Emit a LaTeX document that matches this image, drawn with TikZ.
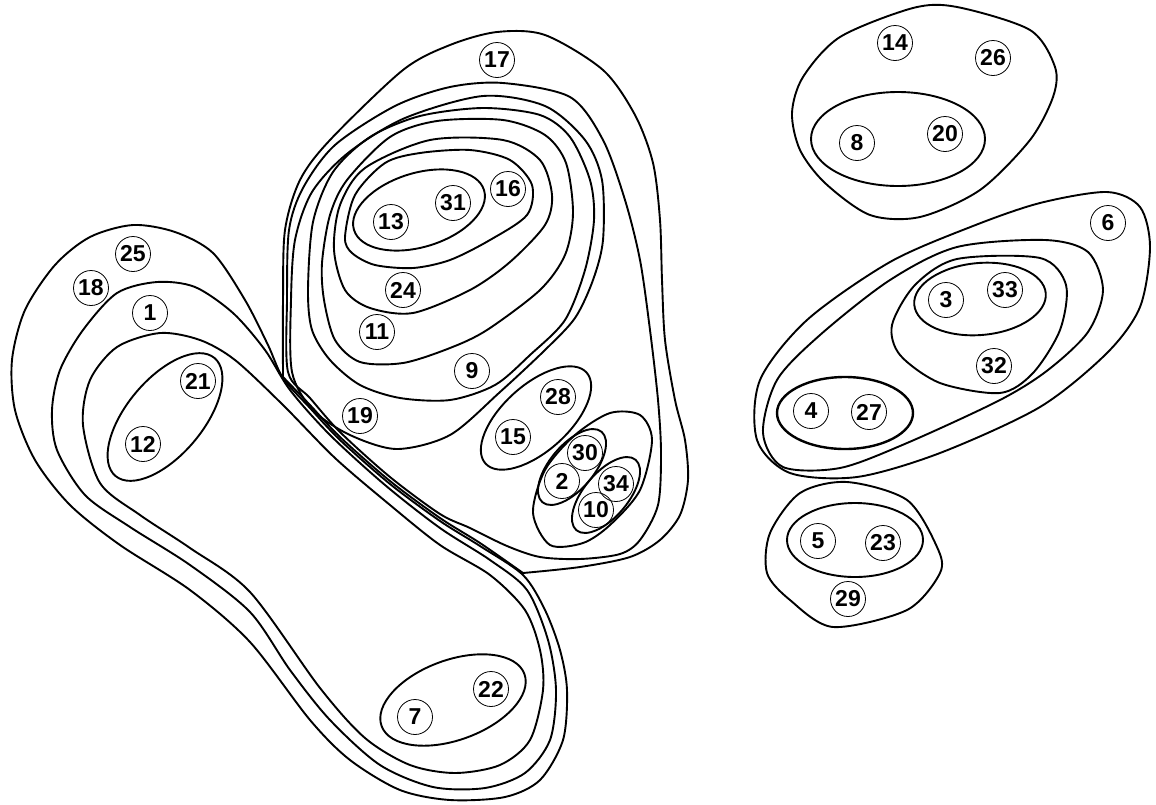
\documentclass[tikz,border=0pt]{standalone}
\usepackage{fontspec}
\setmainfont{Liberation Sans}
\tikzset{
  curve/.style={line width=1.9pt, line join=round},
  lab/.style={circle, draw, line width=0.8pt, minimum size=35pt, inner sep=0pt, font=\fontsize{23}{23}\selectfont\bfseries},
}
\begin{document}
\begin{tikzpicture}[x=1pt,y=-1pt]
\fill[white] (0,0) rectangle (1156,804);
\useasboundingbox (0,0) rectangle (1156,804);

% ---------------- middle/left big group ----------------
% curve 17 (outer of the middle group)
\draw[curve] plot[smooth] coordinates {(283,377) (283,300) (285,230) (300,180) (330,140) (403,70) (450,45) (497,32) (545,35) (603,70) (635,115) (653,163) (660,220) (662,280) (665,340) (675,400) (685,440) (688,480) (680,515) (660,540) (630,557) (580,567) (523,573)}
  -- plot[smooth] coordinates {(523,573) (480,543) (440,518) (390,481) (340,437) (310,405) (283,377)} -- cycle;

% M7
\draw[curve] plot[smooth cycle] coordinates {(288,372) (287,300) (289,230) (303,188) (335,145) (395,106) (450,87) (503,83) (570,97) (603,140) (625,200) (640,260) (650,330) (658,400) (661,453) (658,505) (640,540) (620,554) (580,559) (540,557) (507,546) (470,528) (440,514) (390,477) (340,432) (310,398)};

% M6 (19)
\draw[curve] plot[smooth cycle] coordinates {(292,372) (291,300) (295,240) (312,192) (348,153) (405,118) (483,96) (545,106) (585,140) (602,180) (603,240) (593,280) (575,318) (545,350) (500,392) (450,435) (397,449) (350,435) (313,410)};

% M5 (9)
\draw[curve] plot[smooth cycle] coordinates {(308,290) (313,222) (333,172) (370,137) (420,116) (483,108) (540,115) (570,137) (590,180) (594,220) (585,270) (565,320) (530,355) (495,385) (450,400) (400,398) (360,385) (330,360) (312,330)};

% M4 (11)
\draw[curve] plot[smooth cycle] coordinates {(322,263) (330,215) (347,180) (390,137) (437,121) (503,120) (545,135) (566,163) (573,213) (565,255) (540,290) (487,330) (450,348) (403,363) (360,362) (335,340) (324,300)};

% M3 (24)
\draw[curve] plot[smooth cycle] coordinates {(334,250) (340,205) (365,168) (430,140) (503,140) (540,160) (552,195) (545,225) (510,262) (470,290) (413,313) (370,308) (345,290)};

% M2 (16)
\draw[curve] plot[smooth cycle] coordinates {(345,237) (355,195) (385,163) (420,153) (470,150) (510,160) (532,185) (527,215) (490,240) (450,260) (413,268) (375,265) (352,253)};

% M1 (13,31)
\draw[curve] (419,210) ellipse[x radius=68, y radius=37, rotate=17];

% 15/28
\draw[curve] (536,418) ellipse[x radius=68, y radius=33, rotate=42];

% group 2,30,34,10
\draw[curve] plot[smooth cycle] coordinates {(533,513) (545,470) (575,435) (610,413) (640,415) (652,440) (640,490) (610,525) (583,543) (550,545)};
\draw[curve] (572,467) ellipse[x radius=46, y radius=22, rotate=50];
\draw[curve] (606,495) ellipse[x radius=46, y radius=22, rotate=50];

% A1 (25,18)
\draw[curve] plot[smooth cycle] coordinates {(283,378) (310,408) (340,440) (390,484) (440,521) (480,546) (523,575) (545,610) (560,650) (567,690) (563,740) (540,780) (505,797) (450,800) (400,790) (350,760) (310,720) (250,642) (190,590) (120,545) (70,505) (35,460) (15,410) (12,360) (25,310) (55,265) (90,237) (133,225) (175,232) (213,253) (245,300) (268,345)};

% A2 (1)
\draw[curve] plot[smooth cycle] coordinates {(60,370) (83,330) (117,293) (157,282) (195,287) (233,313) (265,350) (290,390) (330,435) (385,485) (440,528) (490,560) (527,590) (548,640) (556,690) (550,740) (525,773) (485,788) (433,787) (380,765) (330,720) (290,670) (250,612) (190,565) (130,527) (85,495) (57,450) (52,410)};

% A3
\draw[curve] plot[smooth cycle] coordinates {(83,425) (90,380) (117,347) (160,333) (200,340) (235,360) (283,405) (335,458) (390,505) (440,545) (490,575) (525,610) (540,650) (543,690) (530,740) (500,765) (455,773) (410,765) (365,738) (320,688) (250,592) (190,548) (140,515) (100,483)};

% 12/21 and 7/22
\draw[curve] (165,417) ellipse[x radius=77, y radius=38, rotate=50];
\draw[curve] (453,700) ellipse[x radius=76, y radius=40, rotate=20];

% ---------------- right groups ----------------
\draw[curve] plot[smooth cycle] coordinates {(792,113) (803,77) (840,37) (913,8) (957,7) (1030,30) (1055,67) (1053,97) (1030,140) (980,190) (920,217) (870,215) (825,183) (800,150)};
\draw[curve] (898,139) ellipse[x radius=87, y radius=47];

\draw[curve] plot[smooth cycle] coordinates {(1107,192) (1140,207) (1150,247) (1140,307) (1107,353) (1040,407) (940,453) (857,477) (790,473) (757,440) (760,380) (807,320) (890,262) (973,226) (1040,203)};
\draw[curve] plot[smooth cycle] coordinates {(1045,240) (1088,252) (1103,290) (1088,332) (1048,370) (1000,400) (907,443) (840,468) (783,467) (763,433) (777,380) (820,335) (890,280) (957,247)};
\draw[curve] plot[smooth cycle] coordinates {(892,325) (915,285) (957,259) (1040,258) (1066,285) (1060,330) (1033,373) (1000,393) (940,383) (900,355)};
\draw[curve] (980,299) ellipse[x radius=66, y radius=36, rotate=5];
\draw[curve, line width=2.4pt] (845,413) ellipse[x radius=68, y radius=36];

\draw[curve] plot[smooth cycle] coordinates {(847,482) (907,500) (937,547) (940,573) (907,610) (833,627) (790,600) (767,573) (770,533) (800,493)};
\draw[curve] (855,540) ellipse[x radius=68, y radius=37];

% ---------------- labels ----------------
\node[lab] (n17) at (497,60) {17};
\node[lab] (n14) at (895,43) {14};
\node[lab] (n26) at (993,58) {26};
\node[lab] (n8) at (857,143) {8};
\node[lab] (n20) at (945,134) {20};
\node[lab] (n16) at (508,189) {16};
\node[lab] (n13) at (391,222) {13};
\node[lab] (n31) at (453,203) {31};
\node[lab] (n6) at (1108,223) {6};
\node[lab] (n25) at (133,254) {25};
\node[lab] (n18) at (91,288) {18};
\node[lab] (n3) at (946,300) {3};
\node[lab] (n33) at (1005,290) {33};
\node[lab] (n24) at (403,290) {24};
\node[lab] (n1) at (150,313) {1};
\node[lab] (n11) at (377,332) {11};
\node[lab] (n21) at (198,381) {21};
\node[lab] (n9) at (472,371) {9};
\node[lab] (n32) at (994,366) {32};
\node[lab] (n28) at (558,397) {28};
\node[lab] (n19) at (360,416) {19};
\node[lab] (n4) at (811,411) {4};
\node[lab] (n27) at (869,412) {27};
\node[lab] (n15) at (513,437) {15};
\node[lab] (n12) at (143,444) {12};
\node[lab] (n30) at (585,453) {30};
\node[lab] (n2) at (562,481) {2};
\node[lab] (n34) at (616,484) {34};
\node[lab] (n10) at (596,510) {10};
\node[lab] (n5) at (818,541) {5};
\node[lab] (n23) at (883,543) {23};
\node[lab] (n29) at (848,599) {29};
\node[lab] (n22) at (491,689) {22};
\node[lab] (n7) at (415,717) {7};
\end{tikzpicture}
\end{document}
